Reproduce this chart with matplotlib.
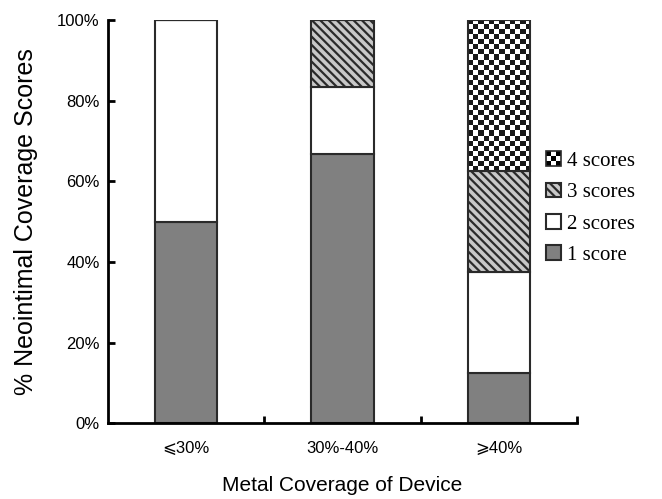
import numpy as np
import matplotlib
matplotlib.use('Agg')
import matplotlib.pyplot as plt
from matplotlib.patches import Rectangle
from matplotlib.legend_handler import HandlerBase

categories = ['⩽30%', '30%-40%', '⩾40%']
score_labels = ['1 score', '2 scores', '3 scores', '4 scores']
score1 = [50.0, 66.7, 12.5]
score2 = [50.0, 16.7, 25.0]
score3 = [0.0, 16.6, 25.0]
score4 = [0.0, 0.0, 37.5]

plt.rcParams['font.family'] = ['Liberation Sans', 'DejaVu Sans']

fig = plt.figure(figsize=(6.62, 4.99), dpi=100)
ax = fig.add_axes([0.163, 0.152, 0.709, 0.808])

x = np.arange(len(categories))
w = 0.4
edge = '#2a2a2a'

b1 = ax.bar(x, score1, w, color='#808080', edgecolor=edge, linewidth=1.5)
bottom = np.array(score1)
b2 = ax.bar(x, score2, w, bottom=bottom, color='white', edgecolor=edge, linewidth=1.5)
bottom = bottom + score2
plt.rcParams['hatch.linewidth'] = 1.6
plt.rcParams['hatch.color'] = '#1a1a1a'
b3 = ax.bar(x, score3, w, bottom=bottom, color='#c8c8c8', edgecolor=edge,
            linewidth=1.5, hatch='\\\\\\\\')
bottom = bottom + score3
b4 = ax.bar(x, score4, w, bottom=bottom, color='white', edgecolor=edge, linewidth=1.5)

# checkerboard fill for the 4-score segments
for rect in b4:
    if rect.get_height() <= 0:
        continue
    x0, y0 = rect.get_x(), rect.get_y()
    x1, y1 = x0 + rect.get_width(), y0 + rect.get_height()
    nx, ny = 12, 30
    board = (np.add.outer(np.arange(ny), np.arange(nx)) % 2).astype(float)
    im = ax.imshow(board, cmap='gray', vmin=-0.1, vmax=1, extent=[x0, x1, y0, y1],
                   aspect='auto', interpolation='nearest', zorder=2)
    im.set_clip_path(rect)
    rect.set_zorder(3)
    rect.set_facecolor('none')

ax.set_xlim(-0.5, 2.5)
ax.set_ylim(0, 100)
ax.set_yticks(np.arange(0, 101, 20))
ax.set_yticklabels([f'{v}%' for v in range(0, 101, 20)], fontsize=12)
ax.set_xticks(x)
ax.set_xticklabels(categories, fontsize=12)
ax.set_xticks([0.5, 1.5, 2.5], minor=True)
ax.tick_params(axis='x', which='major', length=0, pad=13)
ax.tick_params(axis='x', which='minor', direction='in', length=5, width=2)
ax.tick_params(axis='y', direction='in', length=5, width=2, pad=6)

for s in ['top', 'right']:
    ax.spines[s].set_visible(False)
for s in ['left', 'bottom']:
    ax.spines[s].set_linewidth(2)

ax.set_xlabel('Metal Coverage of Device', fontsize=15, labelpad=14)
ax.set_ylabel('% Neointimal Coverage Scores', fontsize=18, labelpad=14)


class CheckerHandler(HandlerBase):
    def create_artists(self, legend, orig_handle, xdescent, ydescent,
                       width, height, fontsize, trans):
        arts = []
        n = 3
        cw, ch = width / n, height / n
        for i in range(n):
            for j in range(n):
                c = 'black' if (i + j) % 2 == 0 else 'white'
                arts.append(Rectangle((-xdescent + i * cw, -ydescent + j * ch), cw, ch,
                                      facecolor=c, edgecolor='none', transform=trans))
        arts.append(Rectangle((-xdescent, -ydescent), width, height, facecolor='none',
                              edgecolor=edge, linewidth=1.2, transform=trans))
        return arts


checker_proxy = Rectangle((0, 0), 1, 1)
handles = [checker_proxy, b3[0], b2[0], b1[0]]
labels = score_labels[::-1]
leg = fig.legend(handles, labels, loc='center left', bbox_to_anchor=(0.797, 0.583),
                 frameon=False, handlelength=0.72, handleheight=0.72, handletextpad=0.25,
                 labelspacing=0.55, prop={'family': 'Liberation Serif', 'size': 15},
                 handler_map={checker_proxy: CheckerHandler()})

fig.savefig('out.png', dpi=100)
